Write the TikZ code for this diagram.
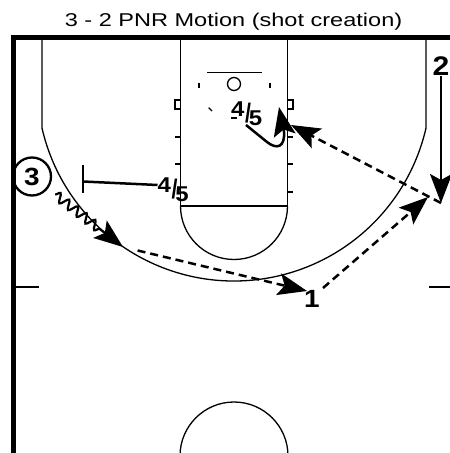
\documentclass[tikz,border=0pt]{standalone}
\usepackage{fontspec}
\setmainfont{Liberation Sans}
\usetikzlibrary{arrows.meta,decorations.pathmorphing,calc}
\newcommand\ffive{\scalebox{1.12}[1]{4}\kern0.5bp\raisebox{-6bp}{\scalebox{1}[1.25]{/}}\kern-2bp\raisebox{-9bp}{\scalebox{1.12}[1]{5}}}
\begin{document}
\begin{tikzpicture}[x=1bp,y=-1bp,
  court/.style={line width=1.3bp},
  border/.style={line width=4.5bp, line join=miter},
  move/.style={line width=2.5bp},
  passline/.style={line width=2.5bp, dash pattern=on 8bp off 5bp},
  tipstyle/.style={-{Stealth[length=29bp,width=22bp,inset=6bp]}},
  num/.style={font=\fontsize{25}{25}\selectfont\bfseries, inner sep=0pt},
  lbl/.style={font=\fontsize{21.5}{21.5}\selectfont\bfseries, inner sep=0pt, anchor=base west},
]
\useasboundingbox (0,0) rectangle (450,453);
\clip (0,0) rectangle (450,453);

% title
\node[font=\fontsize{18.6}{20}\selectfont, anchor=base, inner sep=0pt] (title) at (233.5,26.7)
  {\scalebox{1.27}[1]{3 - 2 PNR Motion (shot creation)}};

% court
\draw[court] (42,37.5) -- (42,128.1) arc[start angle=167.06, end angle=12.94, radius=197] -- (426,37.5);
\draw[court] (180.5,37.5) -- (180.5,206) -- (287.5,206) -- (287.5,37.5);
\draw[court] (180.5,206) arc[start angle=180, end angle=0, radius=53.5];
\draw[court] (207,72.7) -- (262,72.7);
\draw[court] (234,84) circle[radius=6.5];
\draw[court] (199,82.7) -- (199,88);
\draw[court] (270,82.7) -- (270,88);
\draw[court] (208.7,107.7) -- (212,111);
\draw[court] (231,118) -- (237,118);
\draw[court] (175,100) rectangle (180.5,109);
\draw[court] (287.5,100) rectangle (293,109);
\foreach \yy in {137,164} {\draw[court] (175,\yy) -- (180.5,\yy);}
\foreach \yy in {137,164,192} {\draw[court] (287.5,\yy) -- (293,\yy);}
\draw[court] (13,287) -- (39,287);
\draw[court] (429,287) -- (450,287);
\draw[court] (234,456) circle[radius=54];
\draw[border] (13.5,455) -- (13.5,37.5) -- (452,37.5);

% players and labels
\node[num, draw, circle, line width=2.3bp, minimum size=38bp] (p3) at (32,176.5) {\scalebox{1.12}[1]{3}};
\node[num, font=\fontsize{27}{27}\selectfont\bfseries] (p2) at (441,66.5) {\scalebox{1.12}[1]{2}};
\node[num] (p1) at (312,298.5) {\scalebox{1.12}[1]{1}};
\node[lbl] (s45) at (157.5,193) {\ffive};
\node[lbl] (r45) at (231,117) {\ffive};

% coordinates
\coordinate (d3) at (123,247);
\coordinate (a1) at (307,291);
\coordinate (b1) at (323,288);
\coordinate (a2) at (428,197);
\coordinate (c2e) at (441,203);
\coordinate (a45) at (291,125);
\coordinate (scr) at (83,181.5);
\coordinate (rs) at (246,125);

% 3 dribble
\draw[line width=2.2bp, tipstyle, decorate,
  decoration={snake, amplitude=4.5bp, segment length=11bp, pre=moveto, pre length=9bp, post length=28bp}]
  (p3) -- (d3);
% pass 3 -> 1
\draw[passline, tipstyle, shorten <=15bp] (d3) -- (a1);
% pass 1 -> 2
\draw[passline, tipstyle] (b1) -- (a2);
% 2 cut
\draw[move, tipstyle] (p2.south) -- (c2e);
% pass 2 -> 4/5
\draw[passline, tipstyle] (c2e) -- (a45);
% screen
\draw[move] ($(s45.base west)+(0,-8)$) -- (scr);
\draw[move] ($(scr)+(0,-16)$) -- ($(scr)+(0,12)$);
% roll
\draw[move, tipstyle] (rs) -- (267,142) .. controls (277,150) and (285,147) .. (284,132) -- (279,107);
\end{tikzpicture}
\end{document}
